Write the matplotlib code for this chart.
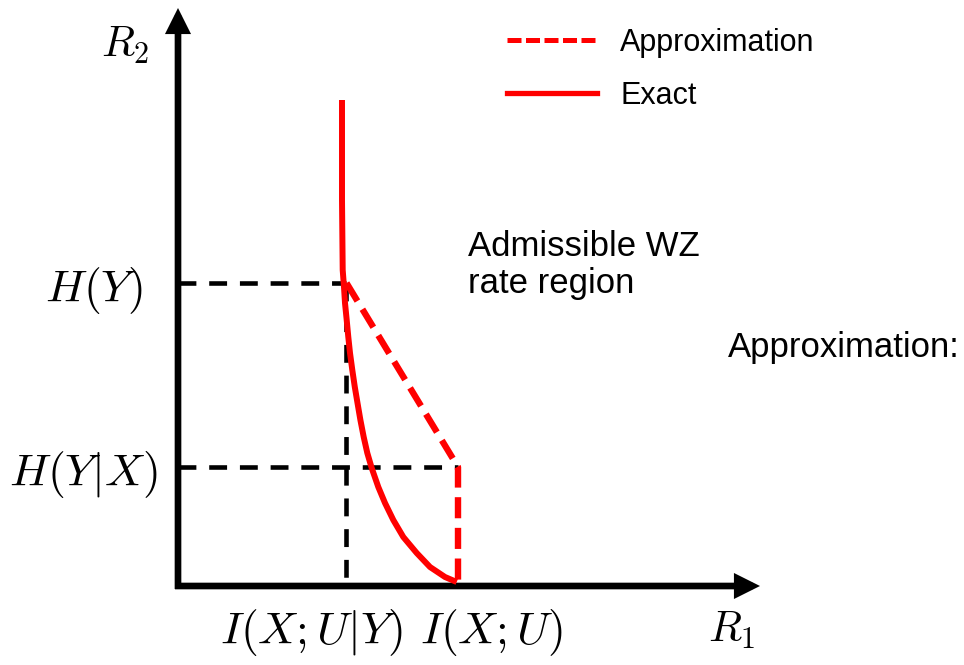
import matplotlib
matplotlib.use("Agg")
import matplotlib.pyplot as plt
from matplotlib.patches import FancyArrowPatch
from matplotlib.lines import Line2D

plt.rcParams['mathtext.fontset'] = 'cm'
plt.rcParams['font.family'] = ['Liberation Sans', 'DejaVu Sans']

# ---- data (arbitrary rate units) ----
I_XU_given_Y = 1.685   # I(X;U|Y)
I_XU = 2.80            # I(X;U)
H_Y = 3.03             # H(Y)
H_Y_given_X = 1.19     # H(Y|X)

exact_r1 = [1.640, 1.640, 1.647, 1.660, 1.670, 1.687, 1.703, 1.720, 1.743,
            1.768, 1.795, 1.824, 1.857, 1.893, 1.937, 2.003, 2.070, 2.153,
            2.253, 2.387, 2.520, 2.670, 2.787]
exact_r2 = [4.86, 3.86, 3.16, 2.99, 2.83, 2.66, 2.49, 2.33, 2.16,
            1.99, 1.83, 1.66, 1.49, 1.33, 1.18, 0.99, 0.83, 0.66,
            0.49, 0.33, 0.19, 0.09, 0.04]

approx_r1 = [I_XU_given_Y, I_XU, I_XU]
approx_r2 = [H_Y, H_Y_given_X, 0.03]

x_tick_labels = [r'$I(X;U|Y)$', r'$I(X;U)$']
y_tick_labels = [r'$H(Y)$', r'$H(Y|X)$']

fig = plt.figure(figsize=(9.64, 6.65), dpi=100)
ax = fig.add_axes([0, 0, 1, 1])
ax.set_xlim(-1.78, 7.86)
ax.set_ylim(-0.79, 5.86)
ax.axis('off')

# axes arrows
arrow_kw = dict(arrowstyle='-|>,head_length=11,head_width=5.5', mutation_scale=1,
                lw=4.8, color='black', shrinkA=0, shrinkB=0,
                joinstyle='miter', capstyle='butt')
ax.add_patch(FancyArrowPatch((0, -0.03), (0, 5.78), **arrow_kw))
ax.add_patch(FancyArrowPatch((-0.03, 0), (5.82, 0), **arrow_kw))

# black dashed guide lines
blk = dict(color='black', lw=3.3, dashes=(3.9, 2.8), zorder=2)
ax.plot([0, I_XU_given_Y], [H_Y, H_Y], **blk)
ax.plot([I_XU_given_Y, I_XU_given_Y], [H_Y, 0], **blk)
ax.plot([0, I_XU], [H_Y_given_X, H_Y_given_X], **blk)

# curves
ax.plot(exact_r1, exact_r2, color='red', lw=4.3, solid_capstyle='butt',
        solid_joinstyle='round', zorder=3)
ax.plot(approx_r1, approx_r2, color='red', lw=4.6, dashes=(3.3, 1.5), zorder=3)

# tick-like labels
fs_math = 33
ax.text(-0.35, H_Y - 0.08, y_tick_labels[0], fontsize=fs_math, ha='right', va='center')
ax.text(-0.21, H_Y_given_X - 0.07, y_tick_labels[1], fontsize=fs_math, ha='right', va='center')
ax.text(1.33, -0.46, x_tick_labels[0], fontsize=fs_math, ha='center', va='center')
ax.text(3.14, -0.46, x_tick_labels[1], fontsize=fs_math, ha='center', va='center')
ax.text(-0.53, 5.41, r'$R_2$', fontsize=31, ha='center', va='center')
ax.text(5.54, -0.44, r'$R_1$', fontsize=31, ha='center', va='center')

# annotations
ax.text(2.90, 3.21, 'Admissible WZ\nrate region', fontsize=25, ha='left', va='center',
        linespacing=1.12)
ax.text(5.50, 2.39, 'Approximation:', fontsize=25, ha='left', va='center')

# legend
handles = [Line2D([], [], color='red', lw=3.6, dashes=(2.8, 0.9)),
           Line2D([], [], color='red', lw=3.8)]
ax.legend(handles, ['Approximation', 'Exact'], loc='upper left',
          bbox_to_anchor=(507 / 964, 1 - 28 / 665), frameon=False, fontsize=22,
          handlelength=2.95, handletextpad=0.75, labelspacing=0.75,
          borderpad=0, borderaxespad=0)

fig.savefig('out.png', dpi=100)
